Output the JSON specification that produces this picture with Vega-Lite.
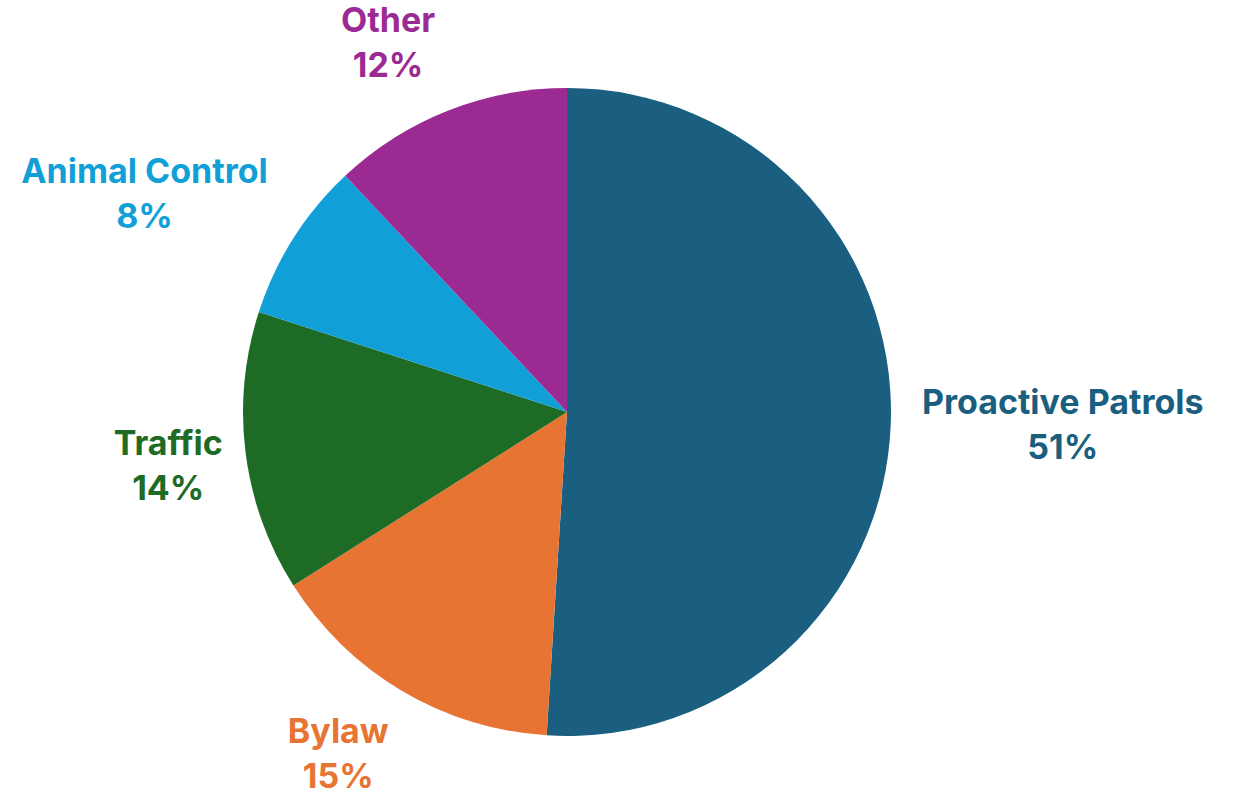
{
  "$schema": "https://vega.github.io/schema/vega-lite/v6.json",
  "width": 1134,
  "height": 768,
  "padding": {"left": 0, "top": 28, "right": 99, "bottom": 0},
  "autosize": {"type": "none"},
  "background": "white",
  "config": {"view": {"stroke": null}, "text": {"font": "Inter", "fontWeight": "bold", "fontSize": 34, "lineBreak": "\n", "lineHeight": 45, "align": "center", "baseline": "middle"}},
  "data": {
    "values": [
      {"category": "Proactive Patrols", "share": 51, "order": 1},
      {"category": "Bylaw", "share": 15, "order": 2},
      {"category": "Traffic", "share": 14, "order": 3},
      {"category": "Animal Control", "share": 8, "order": 4},
      {"category": "Other", "share": 12, "order": 5}
    ]
  },
  "transform": [
    {"stack": "share", "groupby": [], "sort": [{"field": "order", "order": "ascending"}], "as": ["s0", "s1"]},
    {"calculate": "(datum.s0 + datum.s1) / 2", "as": "mid"},
    {"calculate": "datum.category + '\\n' + datum.share + '%'", "as": "label"}
  ],
  "encoding": {
    "color": {
      "field": "category",
      "type": "nominal",
      "legend": null,
      "scale": {
        "domain": ["Proactive Patrols", "Bylaw", "Traffic", "Animal Control", "Other"],
        "range": ["#1a5f80", "#e87433", "#1d6b25", "#119fd7", "#9c2a93"]
      }
    }
  },
  "layer": [
    {
      "mark": {"type": "arc", "outerRadius": 324},
      "encoding": {
        "theta": {"field": "s0", "type": "quantitative", "scale": {"domain": [0, 100]}},
        "theta2": {"field": "s1"}
      }
    },
    {
      "transform": [{"filter": "datum.category == 'Proactive Patrols'"}],
      "mark": {"type": "text", "radius": 496, "dx": 0, "dy": -24},
      "encoding": {
        "theta": {"field": "mid", "type": "quantitative", "scale": {"domain": [0, 100]}},
        "text": {"field": "label"}
      }
    },
    {
      "transform": [{"filter": "datum.category == 'Bylaw'"}],
      "mark": {"type": "text", "radius": 410, "dx": -20, "dy": -32},
      "encoding": {
        "theta": {"field": "mid", "type": "quantitative", "scale": {"domain": [0, 100]}},
        "text": {"field": "label"}
      }
    },
    {
      "transform": [{"filter": "datum.category == 'Traffic'"}],
      "mark": {"type": "text", "radius": 410, "dx": 8, "dy": -18},
      "encoding": {
        "theta": {"field": "mid", "type": "quantitative", "scale": {"domain": [0, 100]}},
        "text": {"field": "label"}
      }
    },
    {
      "transform": [{"filter": "datum.category == 'Animal Control'"}],
      "mark": {"type": "text", "radius": 472, "dx": -24, "dy": 14},
      "encoding": {
        "theta": {"field": "mid", "type": "quantitative", "scale": {"domain": [0, 100]}},
        "text": {"field": "label"}
      }
    },
    {
      "transform": [{"filter": "datum.category == 'Other'"}],
      "mark": {"type": "text", "radius": 410, "dx": -28, "dy": -9},
      "encoding": {
        "theta": {"field": "mid", "type": "quantitative", "scale": {"domain": [0, 100]}},
        "text": {"field": "label"}
      }
    }
  ]
}
